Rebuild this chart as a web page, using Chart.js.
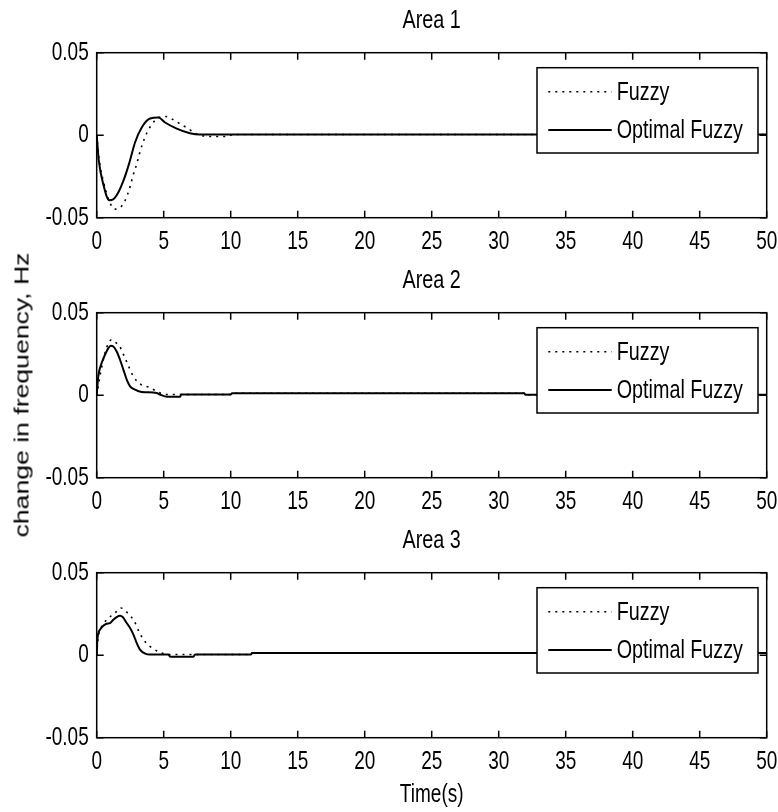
<!DOCTYPE html>
<html>
<head>
<meta charset="utf-8">
<script src="https://cdn.jsdelivr.net/npm/chart.js@4.4.0/dist/chart.umd.min.js"></script>
<style>
  body { margin: 0; background: #fff; }
  #wrap { position: relative; width: 778px; height: 812px; }
  canvas { position: absolute; left: 0; }
  #ylabel {
    position: absolute; left: 22px; top: 395px;
    font: 20px "Liberation Sans", Arial, sans-serif; color: #000; white-space: nowrap;
    transform: translate(-50%, -50%) rotate(-90deg) scaleX(1.33);
  }
</style>
</head>
<body>
<div id="wrap">
  <canvas id="chart-1" width="778" height="260" style="top:0"></canvas>
  <canvas id="chart-2" width="778" height="260" style="top:260px"></canvas>
  <canvas id="chart-3" width="778" height="292" style="top:520px"></canvas>
  <div id="ylabel">change in frequency, Hz</div>
</div>
<script>
// axis ticks
const xTicks = [0, 5, 10, 15, 20, 25, 30, 35, 40, 45, 50];
const yTicks = [-0.05, 0, 0.05];
const yTickLabels = ['-0.05', '0', '0.05'];
const seriesNames = ['Fuzzy', 'Optimal Fuzzy'];
const xTitle = 'Time(s)';

// Area 1
const a1FuzzyT = [0, 0.15, 0.5, 0.94, 1.37, 1.94, 2.29, 2.54, 2.74, 2.98, 3.18, 3.43, 3.73, 4.1, 4.6, 5.17, 5.72, 6.34, 6.84, 7.34, 8.0, 8.6, 9.7, 10.2, 50];
const a1FuzzyV = [0, -0.013, -0.028, -0.040, -0.0448, -0.0422, -0.0362, -0.0297, -0.0236, -0.0176, -0.0115, -0.005, 0.0012, 0.0063, 0.0107, 0.0113, 0.0093, 0.0063, 0.004, 0.0012, -0.0005, -0.0008, -0.0008, 0.0004, 0.0004];
const a1OptT = [0, 0.05, 0.15, 0.5, 0.94, 1.24, 1.61, 1.99, 2.44, 2.86, 3.36, 3.98, 4.6, 5.1, 5.97, 6.96, 7.7, 10, 50];
const a1OptV = [0, -0.005, -0.015, -0.030, -0.0394, -0.0388, -0.0347, -0.0277, -0.0166, -0.0044, 0.0047, 0.0101, 0.0107, 0.0077, 0.004, 0.0012, 0.0004, 0.0004, 0.0004];

// Area 2
const a2FuzzyT = [0, 0.3, 0.6, 0.9, 1.12, 1.4, 1.69, 2.04, 2.36, 2.73, 3.31, 3.85, 4.47, 5.1, 6.3, 10, 10.1, 31.9, 32.0, 50];
const a2FuzzyV = [0, 0.014, 0.025, 0.032, 0.0336, 0.032, 0.0299, 0.0239, 0.0179, 0.0115, 0.0064, 0.005, 0.0024, 0.0004, 0.0004, 0.0004, 0.0012, 0.0012, 0.0002, 0.0002];
const a2OptT = [0, 0.12, 0.37, 0.62, 0.87, 1.04, 1.24, 1.49, 1.74, 1.99, 2.24, 2.49, 2.86, 3.36, 4.47, 4.72, 5.27, 6.22, 6.3, 10, 10.1, 31.9, 32.0, 50];
const a2OptV = [0, 0.0115, 0.0195, 0.0245, 0.0285, 0.0299, 0.0295, 0.0265, 0.0215, 0.0155, 0.0095, 0.0054, 0.0034, 0.002, 0.0014, 0.0004, -0.001, -0.001, 0.0004, 0.0004, 0.0012, 0.0012, 0.0002, 0.0002];

// Area 3
const a3FuzzyT = [0, 0.1, 0.3, 0.5, 0.74, 1.31, 1.81, 2.36, 2.81, 3.18, 3.65, 4.22, 4.8, 5.4, 11.5, 11.6, 50];
const a3FuzzyV = [0, 0.010, 0.016, 0.019, 0.0215, 0.0251, 0.0286, 0.0251, 0.0205, 0.0139, 0.0078, 0.0039, 0.0014, 0.0004, 0.0004, 0.0014, 0.0014];
const a3OptT = [0, 0.05, 0.25, 0.49, 0.74, 0.99, 1.24, 1.49, 1.74, 1.94, 2.24, 2.49, 2.74, 2.98, 3.23, 3.61, 3.98, 5.35, 5.5, 7.2, 7.35, 11.5, 11.6, 50];
const a3OptV = [0, 0.0095, 0.0155, 0.0179, 0.0191, 0.0195, 0.0215, 0.0231, 0.0239, 0.0231, 0.0195, 0.0165, 0.0125, 0.0075, 0.0034, 0.001, 0.0004, 0.0004, -0.001, -0.001, 0.0004, 0.0004, 0.0014, 0.0014];

const FONT = '"Liberation Sans", Arial, sans-serif';
const SQUEEZE = 0.76; // matlab's font is tall and narrow

function toPoints(t, v) {
  return t.map((x, i) => ({ x: x, y: v[i] }));
}

// draw every text of the chart horizontally squeezed round its anchor
const narrowText = {
  id: 'narrowText',
  afterInit(chart) {
    const ctx = chart.ctx;
    const orig = ctx.fillText.bind(ctx);
    ctx.fillText = function (text, x, y) {
      this.save();
      this.translate(x, y);
      this.scale(SQUEEZE, 1);
      orig(text, 0, 0);
      this.restore();
    };
  }
};

// box, inward ticks and boxed legend like the matlab figure
const matlabAxes = {
  id: 'matlabAxes',
  afterDatasetsDraw(chart) {
    const { ctx, chartArea: a, scales: { x, y } } = chart;
    ctx.save();
    ctx.strokeStyle = '#000';
    ctx.lineWidth = 1.5;
    ctx.strokeRect(a.left, a.top, a.right - a.left, a.bottom - a.top);
    ctx.beginPath();
    xTicks.forEach((v) => {
      const px = x.getPixelForValue(v);
      ctx.moveTo(px, a.bottom); ctx.lineTo(px, a.bottom - 7);
      ctx.moveTo(px, a.top); ctx.lineTo(px, a.top + 7);
    });
    yTicks.forEach((v) => {
      const py = y.getPixelForValue(v);
      ctx.moveTo(a.left, py); ctx.lineTo(a.left + 7, py);
      ctx.moveTo(a.right, py); ctx.lineTo(a.right - 7, py);
    });
    ctx.stroke();

    // legend
    const bw = 221, bh = 85.3;
    const bx = a.right - 8.7 - bw, by = a.top + 15;
    ctx.fillStyle = '#fff';
    ctx.fillRect(bx, by, bw, bh);
    ctx.strokeRect(bx, by, bw, bh);
    ctx.font = '26px ' + FONT;
    ctx.textBaseline = 'middle';
    ctx.textAlign = 'left';
    chart.data.datasets.forEach((ds, i) => {
      const ry = by + 24 + i * 38.3;
      ctx.beginPath();
      ctx.lineWidth = ds.borderWidth;
      ctx.setLineDash(ds.borderDash || []);
      ctx.moveTo(bx + 11.3, ry);
      ctx.lineTo(bx + 74.7, ry);
      ctx.stroke();
      ctx.setLineDash([]);
      ctx.fillStyle = '#000';
      ctx.fillText(ds.label, bx + 79.7, ry + 1);
    });
    ctx.restore();
  }
};

function makeChart(id, title, fT, fV, oT, oV, isLast) {
  const ctx = document.getElementById(id).getContext('2d');
  return new Chart(ctx, {
    type: 'line',
    data: {
      datasets: [
        {
          label: seriesNames[0],
          data: toPoints(fT, fV),
          borderColor: '#000',
          borderWidth: 1.6,
          borderDash: [2, 5],
          pointRadius: 0,
          cubicInterpolationMode: 'monotone',
          fill: false,
          order: 2
        },
        {
          label: seriesNames[1],
          data: toPoints(oT, oV),
          borderColor: '#000',
          borderWidth: 2,
          borderDash: [],
          pointRadius: 0,
          cubicInterpolationMode: 'monotone',
          fill: false,
          order: 1
        }
      ]
    },
    options: {
      responsive: false,
      animation: false,
      devicePixelRatio: 1,
      layout: { padding: { left: 0, right: 11.3, top: 0, bottom: 0 } },
      plugins: {
        legend: { display: false },
        tooltip: { enabled: false },
        title: {
          display: true,
          text: title,
          fullSize: false,
          color: '#000',
          font: { family: FONT, size: 26, weight: 'normal' },
          padding: { top: 5, bottom: 16.5 }
        }
      },
      scales: {
        x: {
          type: 'linear',
          min: 0,
          max: 50,
          afterBuildTicks: (s) => { s.ticks = xTicks.map((v) => ({ value: v })); },
          afterFit: (s) => { s.height = isLast ? 74.3 : 42.3; s.paddingLeft = 0; s.paddingRight = 0; },
          grid: { display: false, drawTicks: false },
          border: { display: false },
          ticks: { color: '#000', font: { family: FONT, size: 25 }, padding: 9, maxRotation: 0, autoSkip: false },
          title: {
            display: isLast,
            text: xTitle,
            color: '#000',
            font: { family: FONT, size: 25 },
            padding: { top: 0, bottom: 2 }
          }
        },
        y: {
          type: 'linear',
          min: -0.05,
          max: 0.05,
          afterBuildTicks: (s) => { s.ticks = yTicks.map((v) => ({ value: v })); },
          afterFit: (s) => { s.width = 96.7; s.paddingTop = 0; s.paddingBottom = 0; },
          grid: { display: false, drawTicks: false },
          border: { display: false },
          ticks: {
            color: '#000',
            font: { family: FONT, size: 25 },
            padding: 8,
            callback: (v) => yTickLabels[yTicks.indexOf(v)]
          }
        }
      }
    },
    plugins: [narrowText, matlabAxes]
  });
}

makeChart('chart-1', 'Area 1', a1FuzzyT, a1FuzzyV, a1OptT, a1OptV, false);
makeChart('chart-2', 'Area 2', a2FuzzyT, a2FuzzyV, a2OptT, a2OptV, false);
makeChart('chart-3', 'Area 3', a3FuzzyT, a3FuzzyV, a3OptT, a3OptV, true);
</script>
</body>
</html>
